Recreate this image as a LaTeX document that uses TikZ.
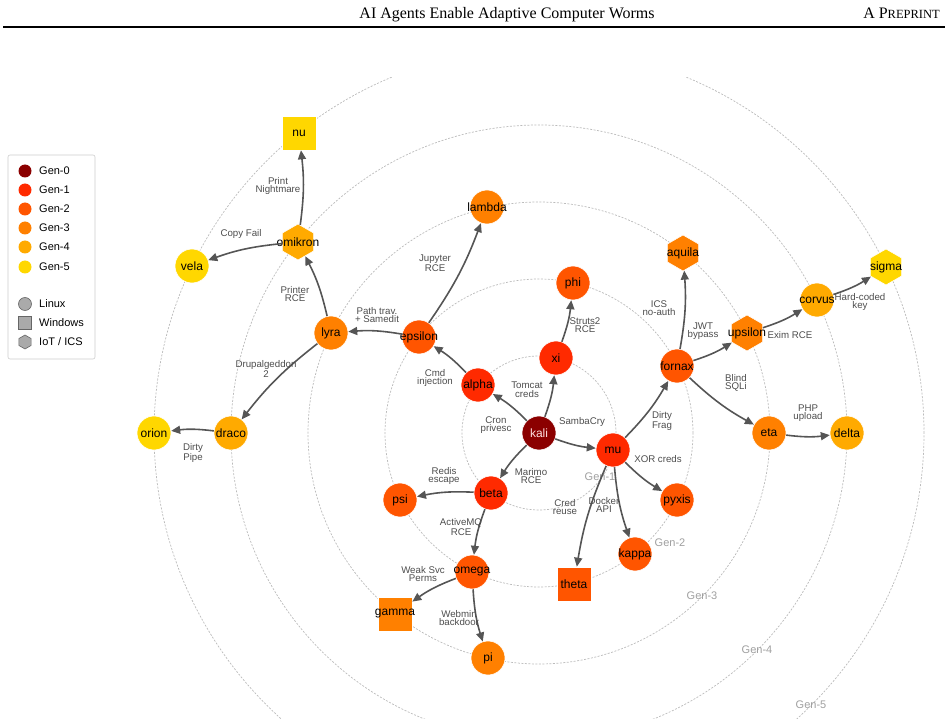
\documentclass[tikz,border=0pt]{standalone}
\usepackage{fontspec}
\setmainfont{Liberation Sans}
\newfontfamily\headfont{Liberation Serif}
\usetikzlibrary{arrows.meta,shapes.geometric}

\definecolor{genzero}{HTML}{8B0000}
\definecolor{genone}{HTML}{FF2A00}
\definecolor{gentwo}{HTML}{FF5500}
\definecolor{genthree}{HTML}{FF8000}
\definecolor{genfour}{HTML}{FFAA00}
\definecolor{genfive}{HTML}{FFD700}
\definecolor{edgegray}{HTML}{555555}
\definecolor{labelgray}{HTML}{4D4D4D}
\definecolor{ringgray}{HTML}{BBBBBB}
\definecolor{keygray}{HTML}{AAAAAA}
\definecolor{keyedge}{HTML}{666666}

\tikzset{
	host/.style={circle, minimum size=34pt, inner sep=0pt, draw=white, line width=0.6pt},
	winhost/.style={rectangle, minimum size=34pt, inner sep=0pt, draw=white, line width=0.6pt},
	iothost/.style={regular polygon, regular polygon sides=6, shape border rotate=30, minimum size=36pt, inner sep=0pt, draw=white, line width=0.6pt},
	every label/.style={font=\fontsize{12}{12}\selectfont, text=black, inner sep=0pt},
	exploit/.style={-{Triangle[length=9pt,width=8pt]}, draw=edgegray, line width=1.6pt, bend right=7},
	vuln/.style={font=\fontsize{9.7}{8.6}\selectfont, text=labelgray, align=center, inner sep=0pt},
	ring/.style={draw=ringgray, line width=0.7pt, dash pattern=on 2pt off 1.5pt},
	ringlabel/.style={font=\fontsize{11}{11}\selectfont, text=gray!75, inner sep=0pt},
	headtext/.style={font=\headfont\fontsize{16}{16}\selectfont, inner sep=0pt},
	legendbox/.style={draw=gray!40, line width=0.6pt, rounded corners=2pt},
	legdot/.style={circle, minimum size=13pt, inner sep=0pt},
	legtext/.style={anchor=west, font=\fontsize{11}{11}\selectfont, inner sep=0pt},
}

\begin{document}
\begin{tikzpicture}[x=1pt,y=-1pt]
	\useasboundingbox (0,0) rectangle (948,719);
	% page header
	\node[headtext, anchor=base] (title) at (507,19) {AI Agents Enable Adaptive Computer Worms};
	\node[headtext, anchor=base east] (preprint) at (940,19) {A P{\fontsize{12.5}{12}\selectfont REPRINT}};
	\draw[line width=1.1pt] (3,27) -- (945,27);

	% generation rings
	\coordinate (hub) at (539,433);
	\begin{scope}
		\clip (0,78) rectangle (948,719);
		\foreach \r in {77,154,231,308,385}
			\draw[ring] (hub) circle[radius=\r pt];
	\end{scope}
	\node[ringlabel] (gen1) at (600,477) {Gen-1};
	\node[ringlabel] (gen2) at (670,543) {Gen-2};
	\node[ringlabel] (gen3) at (702,596) {Gen-3};
	\node[ringlabel] (gen4) at (757,650) {Gen-4};
	\node[ringlabel] (gen5) at (811,705) {Gen-5};

	% legend
	\draw[legendbox] (8,155) rectangle (95,359);
	\foreach \c/\t/\y [count=\i] in {genzero/Gen-0/171, genone/Gen-1/190, gentwo/Gen-2/209, genthree/Gen-3/228, genfour/Gen-4/247, genfive/Gen-5/267}{
		\node[legdot, fill=\c] (key\i) at (25,\y) {};
		\node[legtext] (keytext\i) at (39,\y) {\t};
	}
	\node[legdot, fill=keygray, draw=keyedge, line width=0.6pt] (linux) at (25,304) {};
	\node[legtext] (linuxtext) at (39,304) {Linux};
	\node[rectangle, minimum size=13pt, inner sep=0pt, fill=keygray, draw=keyedge, line width=0.6pt] (windows) at (25,323) {};
	\node[legtext] (windowstext) at (39,323) {Windows};
	\node[regular polygon, regular polygon sides=6, shape border rotate=30, minimum size=14pt, inner sep=0pt, fill=keygray, draw=keyedge, line width=0.6pt] (iot) at (25,342) {};
	\node[legtext] (iottext) at (39,342) {IoT / ICS};

	% hosts
	\node[host, fill=genzero, label={[text=white!88!red]center:kali}] (kali) at (hub) {};
	\node[host, fill=genone, label=center:alpha] (alpha) at (478,385) {};
	\node[host, fill=genone, label=center:xi] (xi) at (556,358) {};
	\node[host, fill=genone, label=center:mu] (mu) at (613,450) {};
	\node[host, fill=genone, label=center:beta] (beta) at (491,493) {};
	\node[host, fill=gentwo, label=center:phi] (phi) at (573,283) {};
	\node[host, fill=gentwo, label=center:epsilon] (epsilon) at (419,337) {};
	\node[host, fill=gentwo, label=center:psi] (psi) at (400,500) {};
	\node[host, fill=gentwo, label=center:omega] (omega) at (472,572) {};
	\node[winhost, fill=gentwo, label=center:theta] (theta) at (574,584) {};
	\node[host, fill=gentwo, label=center:kappa] (kappa) at (635,554) {};
	\node[host, fill=gentwo, label=center:pyxis] (pyxis) at (677,500) {};
	\node[host, fill=gentwo, label=center:fornax] (fornax) at (677,366) {};
	\node[host, fill=genthree, label=center:lambda] (lambda) at (487,207) {};
	\node[host, fill=genthree, label=center:lyra] (lyra) at (331,333) {};
	\node[winhost, fill=genthree, label=center:gamma] (gamma) at (395,614) {};
	\node[host, fill=genthree, label=center:pi] (pi) at (488,658) {};
	\node[iothost, fill=genthree, label=center:aquila] (aquila) at (683,253) {};
	\node[iothost, fill=genthree, label=center:upsilon] (upsilon) at (747,333) {};
	\node[host, fill=genthree, label=center:eta] (eta) at (769,433) {};
	\node[iothost, fill=genfour, label=center:omikron] (omikron) at (298,242) {};
	\node[host, fill=genfour, label=center:draco] (draco) at (231,433) {};
	\node[host, fill=genfour, label=center:corvus] (corvus) at (817,300) {};
	\node[host, fill=genfour, label=center:delta] (delta) at (847,433) {};
	\node[winhost, fill=genfive, label=center:nu] (nu) at (299,133) {};
	\node[host, fill=genfive, label=center:vela] (vela) at (192,266) {};
	\node[host, fill=genfive, label=center:orion] (orion) at (154,433) {};
	\node[iothost, fill=genfive, label=center:sigma] (sigma) at (886,267) {};

	% infection edges
	\draw[exploit] (kali) to (alpha);
	\draw[exploit] (kali) to (xi);
	\draw[exploit] (kali) to (mu);
	\draw[exploit] (kali) to (beta);
	\draw[exploit] (alpha) to (epsilon);
	\draw[exploit] (xi) to (phi);
	\draw[exploit] (mu) to (fornax);
	\draw[exploit] (mu) to (pyxis);
	\draw[exploit] (mu) to (kappa);
	\draw[exploit] (mu) to (theta);
	\draw[exploit] (beta) to (psi);
	\draw[exploit] (beta) to (omega);
	\draw[exploit] (epsilon) to (lyra);
	\draw[exploit] (epsilon) to (lambda);
	\draw[exploit] (fornax) to (aquila);
	\draw[exploit] (fornax) to (upsilon);
	\draw[exploit] (fornax) to (eta);
	\draw[exploit] (omega) to (gamma);
	\draw[exploit] (omega) to (pi);
	\draw[exploit] (lyra) to (omikron);
	\draw[exploit] (lyra) to (draco);
	\draw[exploit] (upsilon) to (corvus);
	\draw[exploit] (eta) to (delta);
	\draw[exploit] (omikron) to (nu);
	\draw[exploit] (omikron) to (vela);
	\draw[exploit] (draco) to (orion);
	\draw[exploit] (corvus) to (sigma);

	% exploit labels
	\node[vuln] (cron) at (496,425) {Cron\\privesc};
	\node[vuln] (tomcat) at (527,390) {Tomcat\\creds};
	\node[vuln] (samba) at (582,422) {SambaCry};
	\node[vuln] (marimo) at (531,476) {Marimo\\RCE};
	\node[vuln] (cmdinj) at (435,378) {Cmd\\injection};
	\node[vuln] (struts) at (585,325) {Struts2\\RCE};
	\node[vuln] (dirtyfrag) at (662,421) {Dirty\\Frag};
	\node[vuln] (xorcreds) at (658,459) {XOR creds};
	\node[vuln] (credreuse) at (565,507) {Cred\\reuse};
	\node[vuln] (docker) at (604,505) {Docker\\API};
	\node[vuln] (icsauth) at (659,308) {ICS\\no-auth};
	\node[vuln] (jwt) at (703,331) {JWT\\bypass};
	\node[vuln] (sqli) at (736,383) {Blind\\SQLi};
	\node[vuln] (exim) at (790,335) {Exim RCE};
	\node[vuln] (hardkey) at (860,302) {Hard-coded\\key};
	\node[vuln] (phpup) at (808,413) {PHP\\upload};
	\node[vuln] (pathtrav) at (377,315) {Path trav.\\+ Samedit};
	\node[vuln] (jupyter) at (435,263) {Jupyter\\RCE};
	\node[vuln] (printer) at (295,294) {Printer\\RCE};
	\node[vuln] (drupal) at (266,369) {Drupalgeddon\\2};
	\node[vuln] (nightmare) at (278,186) {Print\\Nightmare};
	\node[vuln] (copyfail) at (241,234) {Copy Fail};
	\node[vuln] (dirtypipe) at (193,453) {Dirty\\Pipe};
	\node[vuln] (redis) at (444,476) {Redis\\escape};
	\node[vuln] (activemq) at (461,527) {ActiveMQ\\RCE};
	\node[vuln] (weaksvc) at (423,574) {Weak Svc\\Perms};
	\node[vuln] (webmin) at (459,618) {Webmin\\backdoor};
\end{tikzpicture}
\end{document}
